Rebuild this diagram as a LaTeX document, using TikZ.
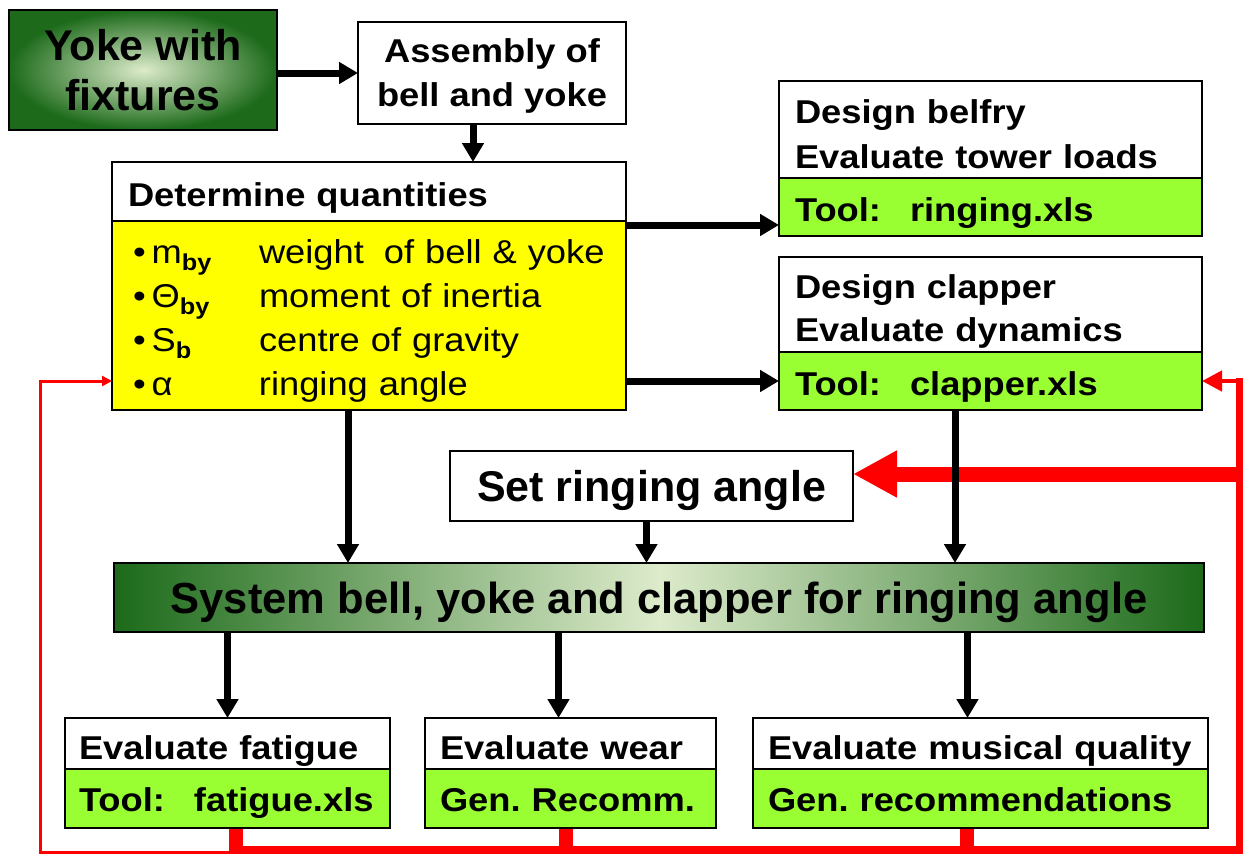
\documentclass[tikz,border=0pt]{standalone}
\usepackage{fontspec}
\setmainfont[FakeStretch=1.1]{Liberation Sans}
\newfontfamily\nrm{Liberation Sans}
\usetikzlibrary{arrows.meta,calc}
\definecolor{lime}{HTML}{99FF33}
\definecolor{ylw}{HTML}{FFFF00}
\definecolor{gdark}{HTML}{1C6A1A}
\definecolor{glight}{HTML}{DDEBCB}
\definecolor{rd}{HTML}{FF0000}
\newcommand{\sbx}[1]{\smash{\raisebox{-7pt}{\fontsize{23}{23}\selectfont\bfseries #1}}}
\frenchspacing
\begin{document}
\frenchspacing
\begin{tikzpicture}[x=1pt,y=-1pt,
  box/.style={draw=black, line width=1.8pt, inner sep=0pt, outer sep=0pt},
  bf/.style={font=\fontsize{33}{44}\selectfont\bfseries\frenchspacing},
  tl/.style={text height=29pt, text depth=0pt},
  arr/.style={line width=7pt, -{Triangle[length=19pt,width=21pt]}},
  redline/.style={draw=rd},
]
\useasboundingbox (0,0) rectangle (1243,855);
\clip (0,0) rectangle (1243,855);
\fill[white] (0,0) rectangle (1243,855);

% top row
\node[box, inner color=glight, outer color=gdark, minimum width=268pt, minimum height=120pt,
      font=\nrm\fontsize{43}{50}\selectfont\bfseries, align=center] (yoke) at (143,70) {Yoke with\\fixtures};
\node[box, fill=white, minimum width=268pt, minimum height=102pt, bf, text depth=0pt, align=center] (asm) at (492,73) {Assembly of\\bell and yoke};

% determine quantities
\node[box, fill=white, minimum width=514pt, minimum height=59pt, bf, tl, text width=482pt, align=left] (dett) at (369,191.5) {Determine quantities};
\node[box, fill=ylw, minimum width=514pt, minimum height=189pt, font=\fontsize{33}{44}\selectfont, text height=28.6pt, text depth=132pt, text width=472pt, align=left] (detb) at (369,315.5)
 {\mbox{\makebox[126pt][l]{\textbullet\hspace{6pt}m\sbx{by}}weight\hspace{9pt} of bell \& yoke}\\
  \mbox{\makebox[126pt][l]{\textbullet\hspace{6pt}Θ\sbx{by}}moment of inertia}\\
  \mbox{\makebox[126pt][l]{\textbullet\hspace{6pt}S\sbx{b}}centre of gravity}\\
  \mbox{\makebox[126pt][l]{\textbullet\hspace{6pt}α}ringing angle}};

% belfry
\node[box, fill=white, minimum width=423pt, minimum height=97pt, font=\fontsize{33}{45}\selectfont\bfseries, text height=33.6pt, text depth=45pt, text width=391pt, align=left] (belt) at (990.5,129.5) {Design belfry\\Evaluate tower loads};
\node[box, fill=lime, minimum width=423pt, minimum height=58pt, bf, tl, text width=391pt, align=left] (belb) at (990.5,207) {\mbox{Tool:\hspace{29pt}ringing.xls}};

% clapper
\node[box, fill=white, minimum width=423pt, minimum height=95pt, font=\fontsize{33}{43}\selectfont\bfseries, text height=31.6pt, text depth=43pt, text width=391pt, align=left] (clt) at (990.5,304.5) {Design clapper\\Evaluate dynamics};
\node[box, fill=lime, minimum width=423pt, minimum height=58pt, bf, tl, text width=391pt, align=left] (clb) at (990.5,381) {\mbox{Tool:\hspace{29pt}clapper.xls}};

% set ringing angle
\node[box, fill=white, minimum width=403pt, minimum height=70pt, font=\nrm\fontsize{43}{50}\selectfont\bfseries, text depth=0pt] (setr) at (651.5,486) {Set ringing angle};

% system
\node[box, left color=gdark, right color=gdark, middle color=glight, minimum width=1090pt, minimum height=69pt,
      font=\nrm\fontsize{43.5}{50}\selectfont\bfseries, text depth=0pt] (sys) at (659,597.5) {System bell, yoke and clapper for ringing angle};

% bottom boxes
\node[box, fill=white, minimum width=325pt, minimum height=51pt, bf, text height=31pt, text depth=0pt, text width=297pt, align=left] (fatt) at (227.5,743.5) {Evaluate fatigue};
\node[box, fill=lime, minimum width=325pt, minimum height=59pt, bf, text height=26pt, text depth=0pt, text width=297pt, align=left] (fatb) at (227.5,798.5) {\mbox{Tool:\hspace{29pt}fatigue.xls}};
\node[box, fill=white, minimum width=291pt, minimum height=51pt, bf, text height=31pt, text depth=0pt, text width=261pt, align=left] (weart) at (570.5,743.5) {Evaluate wear};
\node[box, fill=lime, minimum width=291pt, minimum height=59pt, bf, text height=26pt, text depth=0pt, text width=261pt, align=left] (wearb) at (570.5,798.5) {Gen. Recomm.};
\node[box, fill=white, minimum width=455pt, minimum height=51pt, bf, text height=31pt, text depth=0pt, text width=425pt, align=left] (must) at (980.5,743.5) {\mbox{Evaluate musical quality}};
\node[box, fill=lime, minimum width=455pt, minimum height=59pt, bf, text height=26pt, text depth=0pt, text width=425pt, align=left] (musb) at (980.5,798.5) {Gen. recommendations};

% red feedback lines
\coordinate (fd) at ([xshift=8.5pt,yshift=-1pt]fatb.south);
\coordinate (wd) at ([xshift=-4.5pt,yshift=-1pt]wearb.south);
\coordinate (md) at ([xshift=-13.5pt,yshift=-1pt]musb.south);
\coordinate (bl) at (fd |- 0,850);
\coordinate (br) at (1239,850);
\coordinate (rt) at (br |- clb.east);
\coordinate (ra) at ([yshift=12pt]setr.east);
\coordinate (lb) at (40,852);
\coordinate (la) at (detb.west |- clb.east);
\draw[redline, line width=3pt, -{Triangle[length=10pt,width=10pt]}] (fd |- lb) -- (lb) -- (lb |- la) -- (la);
\draw[redline, line width=14pt] (fd) -- (fd |- bl);
\draw[redline, line width=14pt] (wd) -- (wd |- bl);
\draw[redline, line width=14pt] (md) -- (md |- bl);
\draw[redline, line width=8pt] ([xshift=-7pt]bl) -- ([xshift=4pt]br);
\draw[redline, line width=7pt, line cap=rect] (br) -- (rt);
\draw[redline, line width=4.5pt, -{Triangle[length=20pt,width=20pt]}] (rt) -- (clb.east);
\draw[redline, line width=15pt, -{Triangle[length=44pt,width=44pt]}] (br |- ra) -- (ra);

% black arrows
\draw[arr] (asm.west -| yoke.east) -- (asm.west);
\coordinate (a1) at ([xshift=-19pt]asm.south);
\draw[arr] (a1) -- (a1 |- dett.north);
\coordinate (a2) at ([yshift=-4pt]dett.south east);
\draw[arr] (a2) -- (a2 -| belb.west);
\draw[arr] (detb.east |- clb.west) -- (clb.west);
\coordinate (a3) at ([xshift=-21pt]detb.south);
\draw[arr] (a3) -- (a3 |- sys.north);
\coordinate (a4) at ([xshift=-5pt]setr.south);
\draw[arr] (a4) -- (a4 |- sys.north);
\coordinate (a5) at ([xshift=-35.5pt]clb.south);
\draw[arr] (a5) -- (a5 |- sys.north);
\coordinate (a6) at (fatt.north);
\draw[arr] (a6 |- sys.south) -- (a6);
\coordinate (a7) at ([xshift=-12pt]weart.north);
\draw[arr] (a7 |- sys.south) -- (a7);
\coordinate (a8) at ([xshift=-13pt]must.north);
\draw[arr] (a8 |- sys.south) -- (a8);
\end{tikzpicture}
\end{document}
